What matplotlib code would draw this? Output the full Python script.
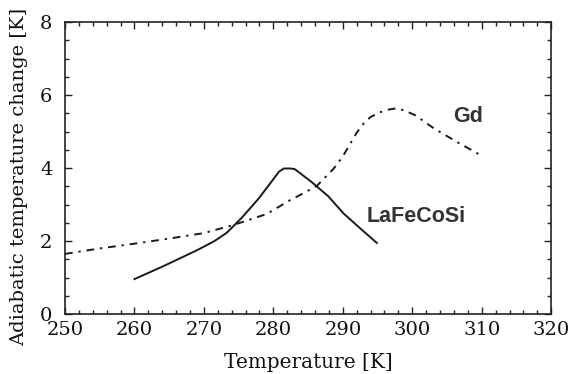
import matplotlib
matplotlib.use("Agg")
from matplotlib import pyplot as plt
from matplotlib.ticker import MultipleLocator

# LaFeCoSi (solid)
t_lfcs = [260, 264, 267, 269, 271.5, 273.3, 275.5, 277.9, 279.5, 280.8, 281.5, 282.5, 283.1, 285.5, 287.9, 290.1, 292.5, 294.9]
dt_lfcs = [0.96, 1.3, 1.57, 1.75, 2.0, 2.23, 2.65, 3.17, 3.57, 3.9, 3.99, 3.99, 3.97, 3.62, 3.23, 2.76, 2.35, 1.95]

# Gd (dash-dot)
t_gd = [250, 255, 260, 265, 270, 274.2, 279, 282.4, 284.5, 286.3, 288.7, 290.0, 291.1, 292.0, 293.0, 294.0, 295.2, 296.5, 297.8, 299.0, 300.4, 303.1, 306.4, 309.8]
dt_gd = [1.65, 1.8, 1.93, 2.07, 2.22, 2.44, 2.74, 3.12, 3.33, 3.52, 3.99, 4.32, 4.68, 4.97, 5.22, 5.4, 5.52, 5.6, 5.64, 5.57, 5.45, 5.09, 4.72, 4.36]

fig = plt.figure(figsize=(5.7, 3.74), dpi=100)
ax = fig.add_axes([0.114, 0.16, 0.853, 0.781])

ax.plot(t_lfcs, dt_lfcs, color='#1a1a1a', linewidth=1.4, linestyle='-')
ax.plot(t_gd, dt_gd, color='#1a1a1a', linewidth=1.4, linestyle=(0, (4, 3, 1.2, 3)))

ax.text(308.1, 5.4, 'Gd', fontsize=15.5, fontweight='bold', family='Liberation Sans',
        color='#333333', ha='center', va='center')
ax.text(300.6, 2.68, 'LaFeCoSi', fontsize=15.5, fontweight='bold', family='Liberation Sans',
        color='#333333', ha='center', va='center')

ax.set_xlim(250, 320)
ax.set_ylim(0, 8)
ax.xaxis.set_major_locator(MultipleLocator(10))
ax.xaxis.set_minor_locator(MultipleLocator(2))
ax.yaxis.set_major_locator(MultipleLocator(2))
ax.yaxis.set_minor_locator(MultipleLocator(0.5))
ax.tick_params(which='both', direction='in', top=True, right=True, width=1, color='#222222')
ax.tick_params(which='major', length=5, labelsize=14)
ax.tick_params(which='minor', length=3)
ax.tick_params(axis='x', which='major', pad=5)
ax.tick_params(axis='y', which='major', pad=9)
for lab in ax.get_xticklabels() + ax.get_yticklabels():
    lab.set_family('DejaVu Serif')
    lab.set_color('#111111')
for sp in ax.spines.values():
    sp.set_linewidth(1.2)
    sp.set_color('#222222')

ax.set_xlabel('Temperature [K]', fontsize=14.4, family='DejaVu Serif', color='#111111', labelpad=10)
ax.set_ylabel('Adiabatic temperature change [K]', fontsize=14, family='DejaVu Serif', color='#111111')
ax.yaxis.set_label_coords(-0.076, 0.469)

fig.savefig('out.png', dpi=100)
